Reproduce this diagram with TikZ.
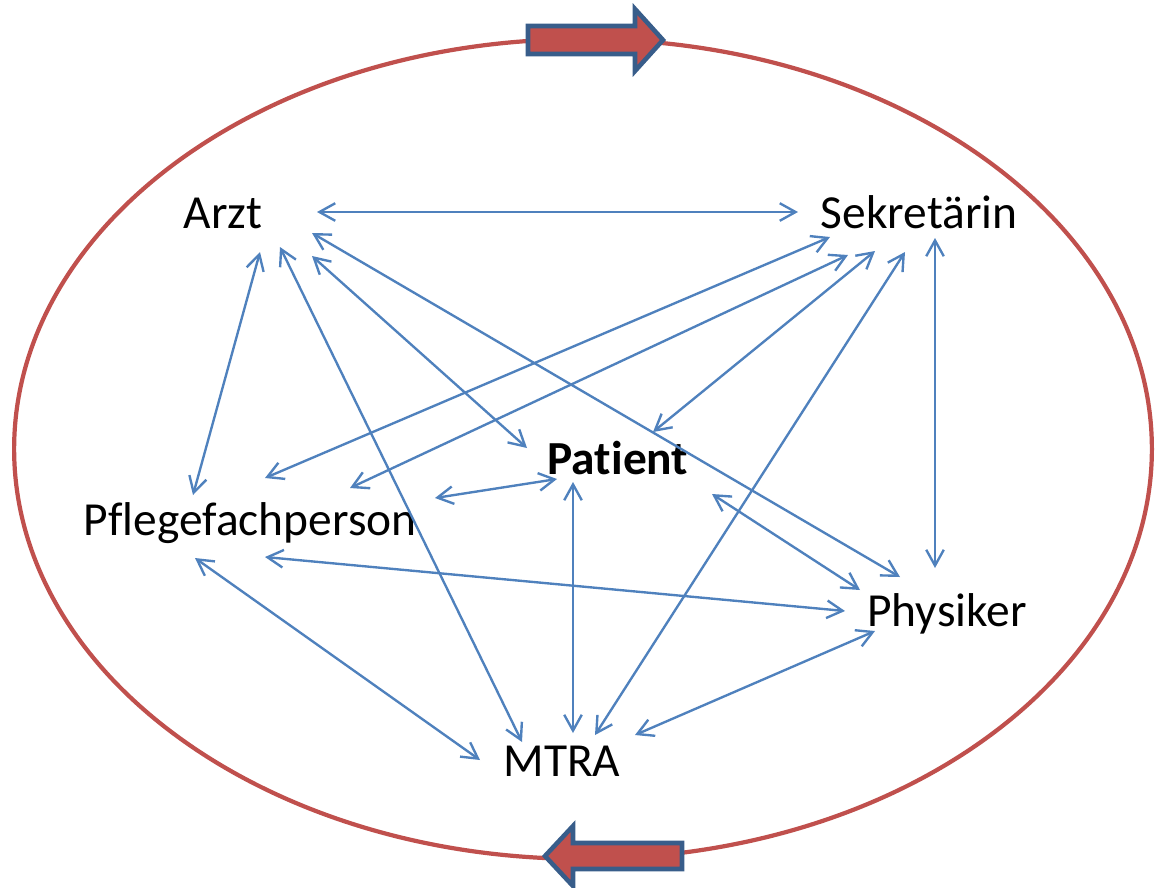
\documentclass[tikz,border=0pt]{standalone}
\usepackage{fontspec}
\setmainfont{Carlito}[Ligatures={NoCommon}]
\usetikzlibrary{calc,arrows,arrows.meta}
\definecolor{ringred}{RGB}{192,80,77}
\definecolor{linkblue}{RGB}{79,129,189}
\definecolor{edgeblue}{RGB}{56,93,138}
\tikzset{
    lbl/.style={anchor=base,inner sep=0pt,font=\fontsize{27}{32}\selectfont},
    link/.style={color=linkblue,line width=1.35pt,{Straight Barb[length=9pt,width=10pt]}-{Straight Barb[length=9pt,width=10pt]}},
    ring/.style={color=ringred,line width=2.4pt},
    blockarrow/.style={draw=edgeblue,fill=ringred,line width=2.6pt,line join=miter}
}
\begin{document}
\begin{tikzpicture}[x=0.02cm,y=-0.02cm]
        \useasboundingbox (0,0) rectangle (1156,887);
        \draw[ring] (583,449) ellipse [x radius=11.38cm, y radius=8.2cm];
        \draw[blockarrow] (528,26) -- (635,26) -- (635,9) -- (663,40) -- (635,71) -- (635,54) -- (528,54) -- cycle;
        \draw[blockarrow] (682,843) -- (573,843) -- (573,826) -- (545,856) -- (573,886) -- (573,869) -- (682,869) -- cycle;
        \node[lbl] (arzt) at (223,228) {Arzt};
        \node[lbl] (sek) at (919,228) {Sekretärin};
        \node[lbl,font=\fontsize{27}{32}\selectfont\bfseries] (patient) at (618,474) {Patient};
        \node[lbl] (pflege) at (250,535) {Pflegefachperson};
        \node[lbl] (phys) at (947,626) {Physiker};
        \node[lbl] (mtra) at (562,776) {MTRA};
        \draw[link] ([shift={(94,-16)}]arzt.base) -- ([shift={(-121,-16)}]sek.base);
        \draw[link] ([shift={(37,24)}]arzt.base) -- ([shift={(-57,-40)}]pflege.base);
        \draw[link] ([shift={(57,19)}]arzt.base) -- ([shift={(-40,-34)}]mtra.base);
        \draw[link] ([shift={(89,28)}]arzt.base) -- ([shift={(-91,-26)}]patient.base);
        \draw[link] ([shift={(89,5)}]arzt.base) -- ([shift={(-47,-49)}]phys.base);
        \draw[link] ([shift={(-89,9)}]sek.base) -- ([shift={(15,-57)}]pflege.base);
        \draw[link] ([shift={(-71,27)}]sek.base) -- ([shift={(100,-47)}]pflege.base);
        \draw[link] ([shift={(-44,23)}]sek.base) -- ([shift={(35,-42)}]patient.base);
        \draw[link] ([shift={(-14,24)}]sek.base) -- ([shift={(33,-41)}]mtra.base);
        \draw[link] ([shift={(16,10)}]sek.base) -- ([shift={(-12,-58)}]phys.base);
        \draw[link] ([shift={(-61,5)}]patient.base) -- ([shift={(185,-37)}]pflege.base);
        \draw[link] ([shift={(-45,8)}]patient.base) -- ([shift={(11,-43)}]mtra.base);
        \draw[link] ([shift={(94,20)}]patient.base) -- ([shift={(-87,-36)}]phys.base);
        \draw[link] ([shift={(15,22)}]pflege.base) -- ([shift={(-102,-15)}]phys.base);
        \draw[link] ([shift={(-55,23)}]pflege.base) -- ([shift={(-82,-16)}]mtra.base);
        \draw[link] ([shift={(-72,5)}]phys.base) -- ([shift={(73,-41)}]mtra.base);
\end{tikzpicture}
\end{document}
